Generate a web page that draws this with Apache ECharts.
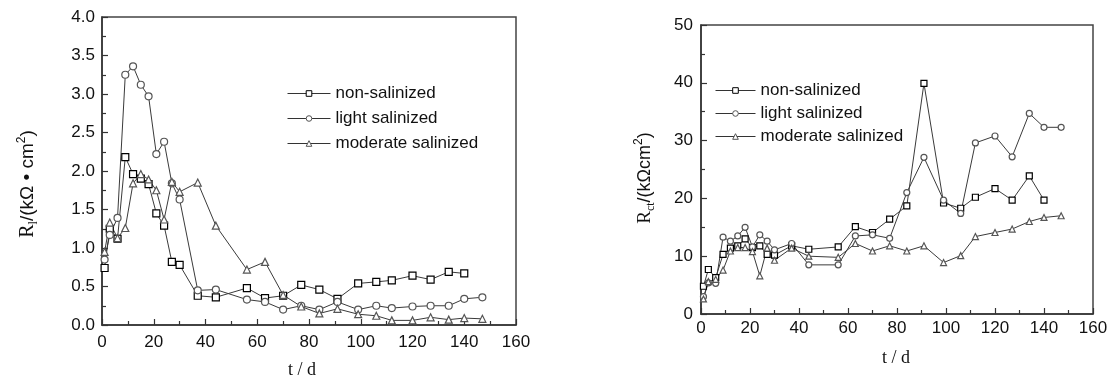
<!DOCTYPE html>
<html>
<head>
<meta charset="utf-8">
<script src="https://cdn.jsdelivr.net/npm/echarts@6/dist/echarts.min.js"></script>
<style>
html,body{margin:0;padding:0;background:#fff;}
#chart{width:1112px;height:380px;}
</style>
</head>
<body>
<div id="chart"></div>
<script>
// ---- data ----
const tDays = [1, 3, 6, 9, 12, 15, 18, 21, 24, 27, 30, 37, 44, 56, 63, 70, 77, 84, 91, 99, 106, 112, 120, 127, 134, 140, 147];
const seriesNames = ['non-salinized', 'light salinized', 'moderate salinized'];
// left panel: R_l (kΩ·cm²)
const rlNon      = [0.74, 1.25, 1.12, 2.18, 1.96, 1.90, 1.83, 1.45, 1.29, 0.82, 0.78, 0.38, 0.36, 0.48, 0.35, 0.38, 0.52, 0.46, 0.34, 0.54, 0.56, 0.58, 0.64, 0.59, 0.69, 0.67, null];
const rlLight    = [0.85, 1.17, 1.39, 3.25, 3.36, 3.12, 2.97, 2.22, 2.38, 1.84, 1.63, 0.45, 0.46, 0.33, 0.30, 0.20, 0.25, 0.20, 0.30, 0.20, 0.25, 0.22, 0.24, 0.25, 0.25, 0.34, 0.36];
const rlModerate = [0.95, 1.33, 1.13, 1.26, 1.84, 1.96, 1.89, 1.75, 1.37, 1.86, 1.73, 1.85, 1.29, 0.72, 0.82, 0.39, 0.24, 0.15, 0.21, 0.14, 0.12, 0.06, 0.06, 0.10, 0.07, 0.09, 0.08];
// right panel: R_ct (kΩcm²)
const rctNon      = [4.8, 7.7, 6.3, 10.3, 11.4, 11.8, 13.0, 11.5, 11.8, 10.3, 10.2, 11.8, 11.2, 11.6, 15.1, 14.1, 16.4, 18.7, 39.9, 19.2, 18.3, 20.2, 21.7, 19.7, 23.9, 19.7, null];
const rctLight    = [3.0, 5.4, 5.3, 13.3, 12.6, 13.5, 15.0, 11.6, 13.7, 12.6, 11.1, 12.2, 8.5, 8.5, 13.5, 13.7, 13.1, 21.0, 27.1, 19.7, 17.4, 29.6, 30.8, 27.2, 34.7, 32.3, 32.3];
const rctModerate = [2.6, 5.6, 6.0, 7.6, 10.9, 11.5, 11.5, 10.8, 6.6, 11.4, 9.3, 11.4, 10.0, 9.8, 12.2, 10.9, 11.8, 10.9, 11.8, 8.9, 10.1, 13.4, 14.1, 14.7, 16.0, 16.7, 17.0];
const xTicks = [0, 20, 40, 60, 80, 100, 120, 140, 160];
const rlTicks = ['0.0','0.5','1.0','1.5','2.0','2.5','3.0','3.5','4.0'];
const rctTicks = [0, 10, 20, 30, 40, 50];

function pairs(vals){ return tDays.map((t,i)=>[t, vals[i]]).filter(p=>p[1]!==null); }

const SANS = 'Liberation Sans, Arial, sans-serif';
const SERIF = 'Liberation Serif, Times New Roman, serif';
const symbols = ['rect','circle','triangle'];
const borderCols = ['#000','#555','#555'];

function mkSeries(name, idx, vals, axisIdx, size){
  return {
    name: name, type: 'line', xAxisIndex: axisIdx, yAxisIndex: axisIdx,
    data: pairs(vals), symbol: symbols[idx], symbolSize: size,
    showAllSymbol: true, animation: false, clip: false,
    lineStyle: { color: '#3a3a3a', width: 1 },
    itemStyle: { color: '#fff', borderColor: borderCols[idx], borderWidth: 1.2 },
    emphasis: { disabled: true }
  };
}

function xAxisCfg(gi, margin){
  return {
    gridIndex: gi, type: 'value', min: 0, max: 160, interval: 20,
    axisLine: { show: true, lineStyle: { color: '#333', width: 1.5 } },
    axisTick: { show: true, inside: true, length: 6, lineStyle: { color: '#333', width: 1.2 } },
    minorTick: { show: true, splitNumber: 2, length: 4, lineStyle: { color: '#333', width: 1.2 } },
    splitLine: { show: false },
    axisLabel: { margin: margin, fontFamily: SANS, fontSize: 17, color: '#111' }
  };
}

function legendCfg(left, top, w, gap){
  return {
    orient: 'vertical', left: left, top: top, itemWidth: w, itemHeight: 7, itemGap: gap,
    data: seriesNames, selectedMode: false,
    lineStyle: { width: 1, color: '#333' },
    itemStyle: { borderWidth: 1 },
    textStyle: { fontFamily: SANS, fontSize: 17, color: '#111' }
  };
}

const chart = echarts.init(document.getElementById('chart'), null, { renderer: 'canvas' });
chart.setOption({
  animation: false,
  backgroundColor: '#fff',
  grid: [
    { left: 102, top: 17, width: 414, height: 308, show: true, borderColor: '#444', borderWidth: 1.5, backgroundColor: 'transparent' },
    { left: 701, top: 25, width: 392, height: 289, show: true, borderColor: '#444', borderWidth: 1.5, backgroundColor: 'transparent' }
  ],
  xAxis: [ xAxisCfg(0, 9), xAxisCfg(1, 6) ],
  yAxis: [
    {
      gridIndex: 0, type: 'value', min: 0, max: 4, interval: 0.5,
      axisLine: { show: true, lineStyle: { color: '#333', width: 1.5 } },
      axisTick: { show: true, inside: true, length: 6, lineStyle: { color: '#333', width: 1.2 } },
      minorTick: { show: true, splitNumber: 2, length: 4, lineStyle: { color: '#333', width: 1.2 } },
      splitLine: { show: false },
      axisLabel: { margin: 7, fontFamily: SANS, fontSize: 17, color: '#111',
        formatter: v => rlTicks[Math.round(v / 0.5)] }
    },
    {
      gridIndex: 1, type: 'value', min: 0, max: 50, interval: 10,
      axisLine: { show: true, lineStyle: { color: '#333', width: 1.5 } },
      axisTick: { show: true, inside: true, length: 6, lineStyle: { color: '#333', width: 1.2 } },
      minorTick: { show: true, splitNumber: 2, length: 4, lineStyle: { color: '#333', width: 1.2 } },
      splitLine: { show: false },
      axisLabel: { margin: 8, fontFamily: SANS, fontSize: 17, color: '#111' }
    }
  ],
  legend: [ legendCfg(282, 80, 43, 8), legendCfg(710, 77, 40, 6) ],
  series: [
    mkSeries(seriesNames[0], 0, rlNon, 0, 7),
    mkSeries(seriesNames[1], 1, rlLight, 0, 7),
    mkSeries(seriesNames[2], 2, rlModerate, 0, 7),
    mkSeries(seriesNames[0], 0, rctNon, 1, 6),
    mkSeries(seriesNames[1], 1, rctLight, 1, 6),
    mkSeries(seriesNames[2], 2, rctModerate, 1, 6)
  ],
  graphic: [
    { type: 'text', x: 302, y: 370, style: { text: 't / d', font: '18px ' + SERIF, fill: '#111', align: 'center', verticalAlign: 'middle' } },
    { type: 'text', x: 896, y: 358, style: { text: 't / d', font: '18px ' + SERIF, fill: '#111', align: 'center', verticalAlign: 'middle' } },
    { type: 'text', x: 28, y: 184, rotation: Math.PI / 2,
      style: {
        text: '{r|R}{sub|l}{t|/(kΩ • cm}{sup|2}{t|)}', align: 'center', verticalAlign: 'middle', fill: '#111',
        rich: {
          r:   { fontFamily: SERIF, fontSize: 20, lineHeight: 24, verticalAlign: 'middle' },
          t:   { fontFamily: SANS, fontSize: 19, lineHeight: 24, verticalAlign: 'middle' },
          sub: { fontFamily: SERIF, fontSize: 12, lineHeight: 12, verticalAlign: 'bottom' },
          sup: { fontFamily: SANS, fontSize: 12, lineHeight: 12, verticalAlign: 'top' }
        }
      } },
    { type: 'text', x: 645, y: 178, rotation: Math.PI / 2,
      style: {
        text: '{r|R}{sub|ct}{t|/(kΩcm}{sup|2}{t|)}', align: 'center', verticalAlign: 'middle', fill: '#111',
        rich: {
          r:   { fontFamily: SERIF, fontSize: 19, lineHeight: 24, verticalAlign: 'middle' },
          t:   { fontFamily: SANS, fontSize: 18, lineHeight: 24, verticalAlign: 'middle' },
          sub: { fontFamily: SERIF, fontSize: 12, lineHeight: 12, verticalAlign: 'bottom' },
          sup: { fontFamily: SANS, fontSize: 12, lineHeight: 12, verticalAlign: 'top' }
        }
      } }
  ]
});
</script>
</body>
</html>
